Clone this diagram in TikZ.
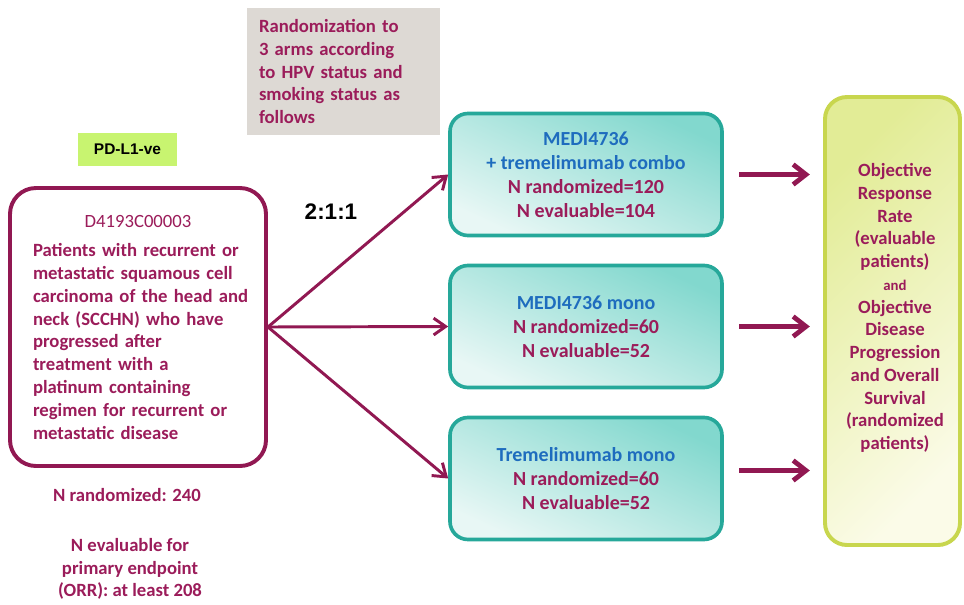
\documentclass[tikz,border=0pt]{standalone}
\usepackage{fontspec}
\setmainfont{Carlito}
\newfontfamily\arialfont{Liberation Sans}
\usetikzlibrary{arrows.meta,positioning}

\definecolor{plum}{RGB}{145,24,82}
\definecolor{plumtext}{RGB}{155,28,90}
\definecolor{armblue}{RGB}{30,108,190}
\definecolor{tealline}{RGB}{38,168,154}
\definecolor{tealdeep}{RGB}{130,216,206}
\definecolor{teallight}{RGB}{232,247,245}
\definecolor{limeline}{RGB}{200,214,78}
\definecolor{limedeep}{RGB}{226,236,150}
\definecolor{limelight}{RGB}{251,251,232}
\definecolor{gatefill}{RGB}{221,217,212}
\definecolor{tagfill}{RGB}{200,244,112}

\newcommand{\bodysize}{\fontsize{13.3}{16.2}\selectfont}
\newcommand{\armsize}{\fontsize{14.2}{17}\selectfont}

\tikzset{
  cohort/.style={draw=plum, line width=2.8pt, rounded corners=0.65cm, fill=white,
    text width=5.55cm, inner xsep=0.425cm, minimum height=6.95cm, align=left,
    text=plumtext, font=\bodysize\bfseries},
  arm/.style={draw=tealline, line width=2.6pt, rounded corners=0.45cm,
    top color=tealdeep, bottom color=teallight, shading angle=-25,
    minimum width=6.8cm, minimum height=3.05cm, align=center,
    text=plumtext, font=\armsize\bfseries},
  endbox/.style={draw=limeline, line width=2.8pt, rounded corners=0.55cm,
    top color=limedeep, bottom color=limelight, shading angle=45,
    minimum width=3.375cm, minimum height=11.2cm},
  gatebox/.style={fill=gatefill, text width=4.225cm, inner xsep=0.3cm,
    minimum height=3.175cm, align=left, text=plumtext, font=\bodysize\bfseries},
  tagbox/.style={fill=tagfill, minimum width=2.475cm, minimum height=0.825cm,
    font=\arialfont\fontsize{11}{13}\selectfont\bfseries},
  plaintxt/.style={align=center, text=plumtext, font=\bodysize\bfseries},
  split/.style={draw=plum, line width=2.1pt, -{Straight Barb[length=0.3cm,width=0.42cm]}},
  feed/.style={draw=plum, line width=3.4pt, -{Straight Barb[length=0.32cm,width=0.5cm]},
    shorten <=0.38cm, shorten >=0.33cm}
}

\begin{document}
\begin{tikzpicture}
			%%%%% START %%%%%
			\useasboundingbox (0,0) rectangle (24.1,-15.125);
			
			\node[gatebox] (gate) at (8.5875,-1.7875) {Randomization to\\3 arms according\\to HPV status and\\smoking status as\\follows};
			\node[tagbox] (tag) at (3.1875,-3.7375) {PD-L1-ve};
			
			\node[cohort] (cohort) at (3.45,-8.175) {{\centering\mdseries D4193C00003\par}\vspace{5pt}
				\hspace*{0.15cm}Patients with recurrent or\\\hspace*{0.15cm}metastatic squamous cell\\\hspace*{0.15cm}carcinoma of the head and\\\hspace*{0.15cm}neck (SCCHN) who have\\\hspace*{0.15cm}progressed after\\\hspace*{0.15cm}treatment with a\\\hspace*{0.15cm}platinum containing\\\hspace*{0.15cm}regimen for recurrent or\\\hspace*{0.15cm}metastatic disease};
			
			\node[font=\arialfont\fontsize{16}{19}\selectfont\bfseries] (ratio) at (8.275,-5.3) {2:1:1};
			
			\node[arm] (combo) at (14.65,-4.3625) {\textcolor{armblue}{MEDI4736}\\\textcolor{armblue}{+ tremelimumab combo}\\N randomized=120\\N evaluable=104};
			\node[arm] (durva) at (14.65,-8.1625) {\textcolor{armblue}{MEDI4736 mono}\\N randomized=60\\N evaluable=52};
			\node[arm] (treme) at (14.65,-11.9625) {\textcolor{armblue}{Tremelimumab mono}\\N randomized=60\\N evaluable=52};
			
			\node[endbox] (endpoints) at (22.3125,-8.025) {};
			\node[plaintxt] (endtext) at (22.375,-7.7) {Objective\\Response\\Rate\\(evaluable\\patients)\\{\fontsize{10.5}{12}\selectfont and}\\Objective\\Disease\\Progression\\and Overall\\Survival\\(randomized\\patients)};
			
			\node[plaintxt] (nrand) at (3.175,-12.375) {N randomized: 240};
			\node[plaintxt] (neval) at (3.25,-14.225) {N evaluable for\\primary endpoint\\(ORR): at least 208};
			
			% arms
			\draw[split] (cohort.east) -- (combo.west);
			\draw[split] (cohort.east) -- (durva.west);
			\draw[split] (cohort.east) -- (treme.west);
			
			% endpoints
			\draw[feed] (combo.east) -- (combo.east -| endpoints.west);
			\draw[feed] (durva.east) -- (durva.east -| endpoints.west);
			\draw[feed] ([yshift=0.2cm]treme.east) -- ([yshift=0.2cm]treme.east -| endpoints.west);
			
			%%%%% END %%%%%
\end{tikzpicture}
\end{document}
